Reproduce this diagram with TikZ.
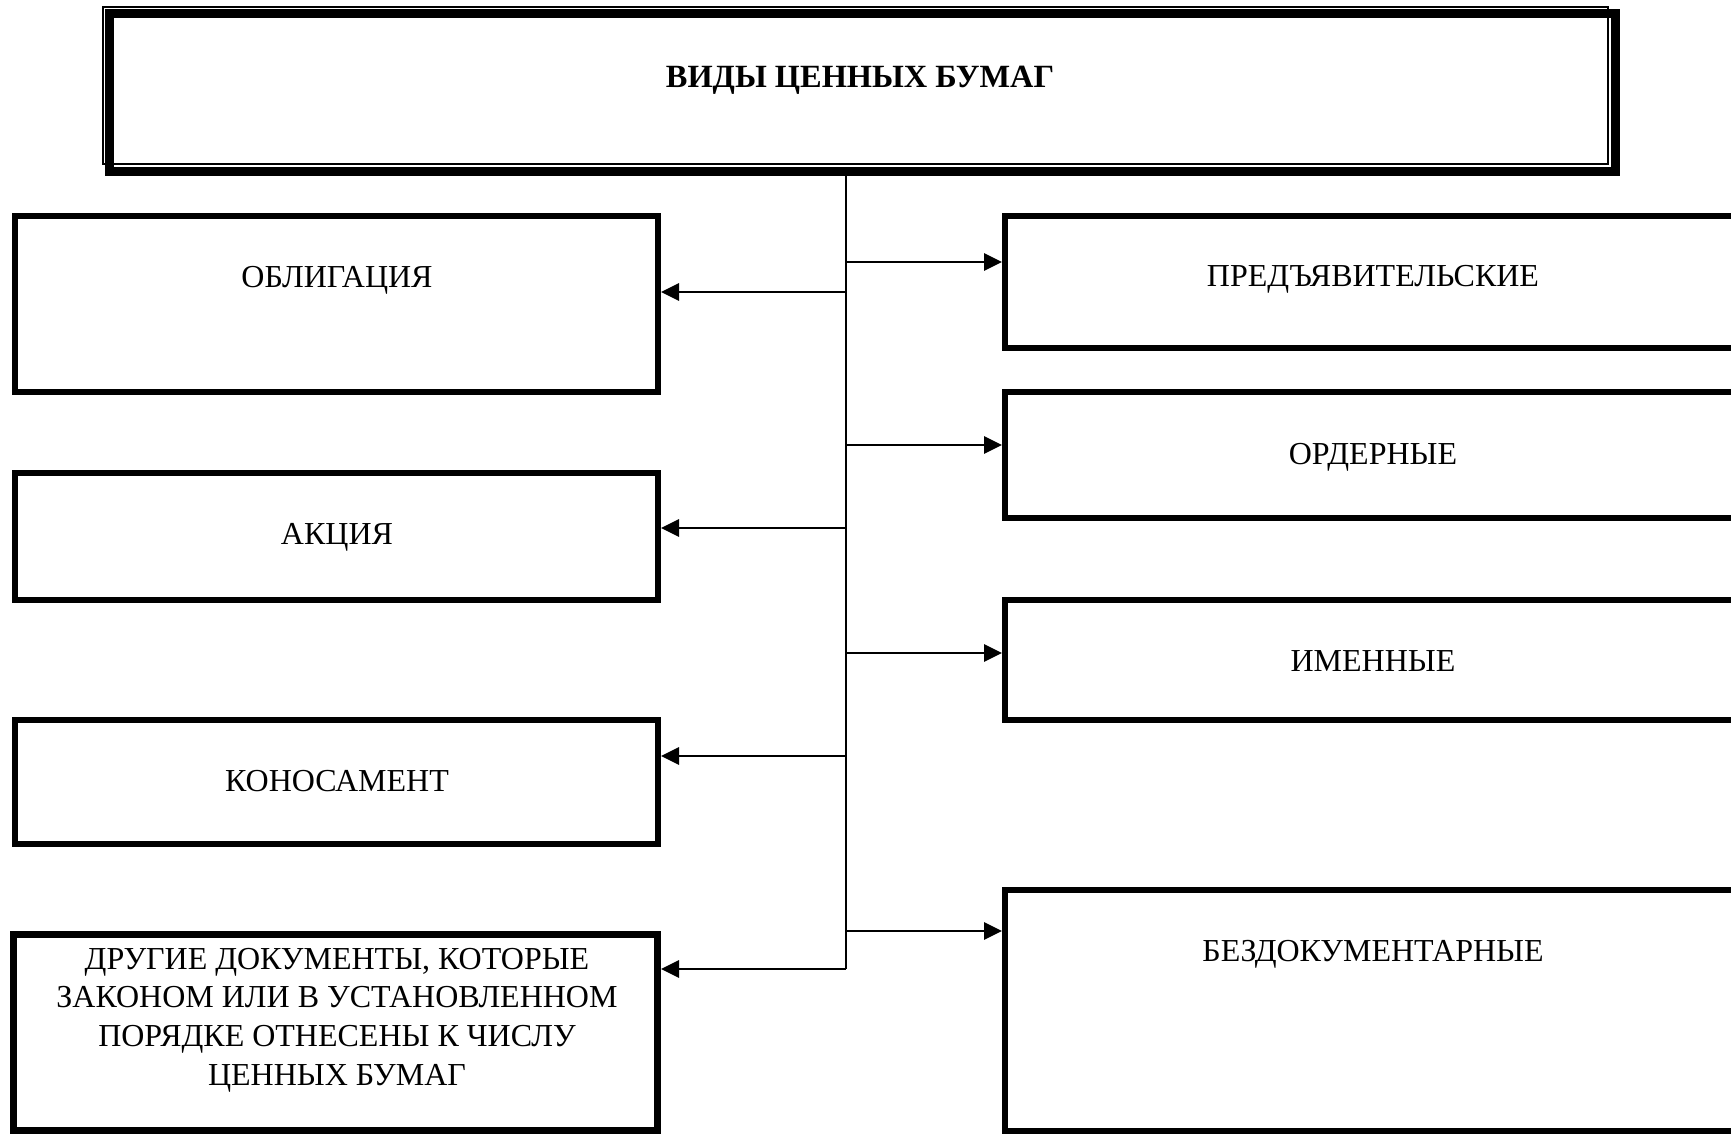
\documentclass[tikz,border=0pt]{standalone}
\usepackage{fontspec}
\setmainfont{Liberation Serif}
\usetikzlibrary{arrows.meta}

\tikzset{
  box/.style={draw, rectangle, line width=3pt, inner sep=0pt},
  lbl/.style={font=\fontsize{16}{19.3}\selectfont, anchor=base, align=center, inner sep=0pt},
  arr/.style={line width=1.4pt, -{Triangle[length=9pt,width=8.5pt]}},
  trunk/.style={line width=1pt}
}

\begin{document}
\begin{tikzpicture}[x=0.5pt, y=-0.5pt]
    \useasboundingbox (0,0) rectangle (1731,1134);
    % Titulo
    \node[box, line width=4.5pt, minimum width=752.75pt, minimum height=79pt] (vidy) at (862.25,92.5) {};
    \draw[line width=0.75pt] ([shift={(-2,-2)}]vidy.north west) rectangle ([shift={(-11.5,-12)}]vidy.south east);
    \node[lbl, font=\fontsize{16.2}{19.3}\selectfont\bfseries] (vidy-t) at (860,88) {ВИДЫ ЦЕННЫХ БУМАГ};

    % Esquerda
    \node[box, minimum width=321.5pt, minimum height=88pt] (obl) at (336.5,304) {};
    \node[lbl] (obl-t) at (337,288) {ОБЛИГАЦИЯ};
    \node[box, minimum width=321.5pt, minimum height=63.5pt] (akc) at (336.5,536.5) {};
    \node[lbl] (akc-t) at (337,544) {АКЦИЯ};
    \node[box, minimum width=321.5pt, minimum height=62pt] (kon) at (336.5,782) {};
    \node[lbl] (kon-t) at (337,791) {КОНОСАМЕНТ};
    \node[box, line width=3.5pt, minimum width=322pt, minimum height=98pt] (oth) at (335.5,1032.5) {};
    \node[lbl, anchor=center] (oth-t) at (337,1020) {ДРУГИЕ ДОКУМЕНТЫ, КОТОРЫЕ\\ЗАКОНОМ ИЛИ В УСТАНОВЛЕННОМ\\ПОРЯДКЕ ОТНЕСЕНЫ К ЧИСЛУ\\ЦЕННЫХ БУМАГ};

    % Direita
    \node[box, minimum width=370pt, minimum height=66pt] (pred) at (1375,282) {};
    \node[lbl] (pred-t) at (1373,287) {ПРЕДЪЯВИТЕЛЬСКИЕ};
    \node[box, minimum width=370pt, minimum height=63pt] (ord) at (1375,455) {};
    \node[lbl] (ord-t) at (1373,465) {ОРДЕРНЫЕ};
    \node[box, minimum width=370pt, minimum height=60pt] (imen) at (1375,660) {};
    \node[lbl] (imen-t) at (1373,671) {ИМЕННЫЕ};
    \node[box, minimum width=370pt, minimum height=120.5pt] (bezd) at (1375,1010.5) {};
    \node[lbl] (bezd-t) at (1373,961) {БЕЗДОКУМЕНТАРНЫЕ};

    % Linha vertical
    \coordinate (tb) at (846,969);
    \draw[trunk] (tb |- vidy.south) -- (tb);

    \foreach \y/\n in {292/obl, 528/akc, 756/kon, 969/oth} {
        \coordinate (j) at (846,\y);
        \draw[arr] (j) -- (j -| \n.east);
    }
    \foreach \y/\n in {262/pred, 445/ord, 653/imen, 931/bezd} {
        \coordinate (j) at (846,\y);
        \draw[arr] (j) -- (j -| \n.west);
    }
\end{tikzpicture}
\end{document}
